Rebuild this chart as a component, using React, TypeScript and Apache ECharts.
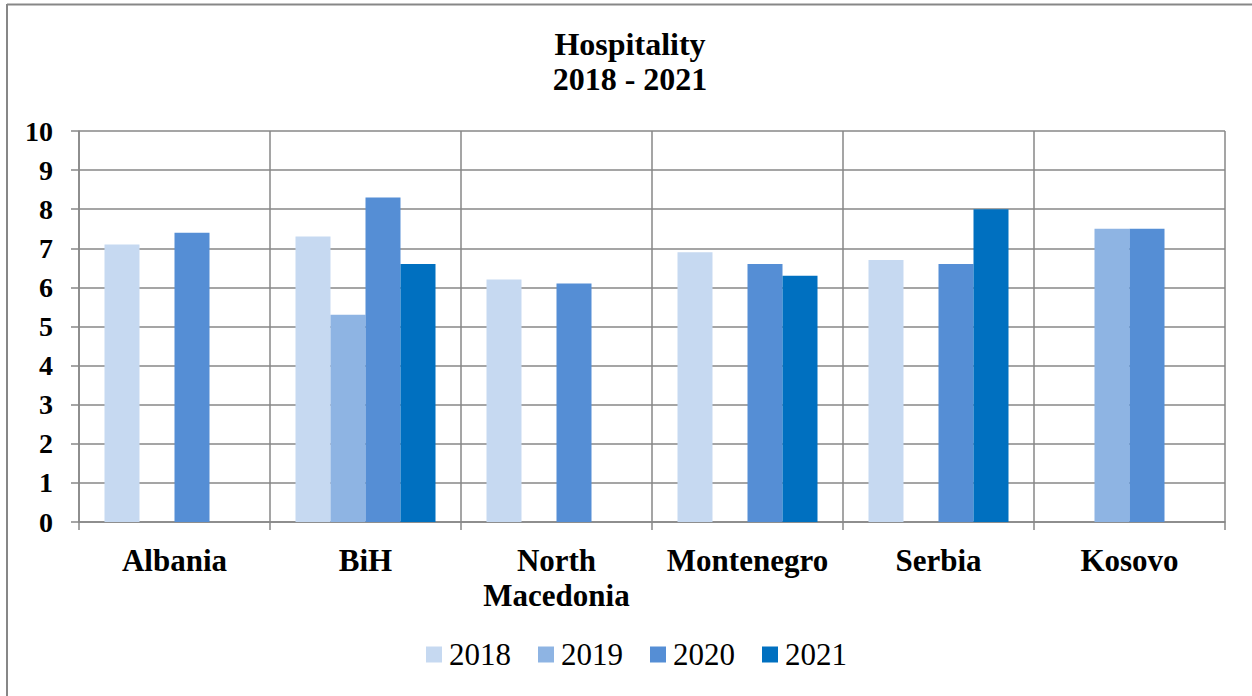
import React, { useEffect, useRef } from "react";
import * as echarts from "echarts";

const categories = ["Albania", "BiH", "North\nMacedonia", "Montenegro", "Serbia", "Kosovo"];
const years = ["2018", "2019", "2020", "2021"];
const values2018 = [7.1, 7.3, 6.2, 6.9, 6.7, null];
const values2019 = [null, 5.3, null, null, null, 7.5];
const values2020 = [7.4, 8.3, 6.1, 6.6, 6.6, 7.5];
const values2021 = [null, 6.6, null, 6.3, 8.0, null];
const colors = ["#C6D9F1", "#8EB4E3", "#558ED5", "#0070C0"];
const yTicks = [0, 1, 2, 3, 4, 5, 6, 7, 8, 9, 10];

const FONT = "Liberation Serif";
const GRID_COLOR = "#878787";

export default function App() {
  const ref = useRef<HTMLDivElement>(null);
  useEffect(() => {
    if (!ref.current) return;
    const chart = echarts.init(ref.current, null, { renderer: "svg" });
    const seriesData = [values2018, values2019, values2020, values2021];
    chart.setOption({
      animation: false,
      backgroundColor: "#ffffff",
      title: {
        text: "Hospitality\n2018 - 2021",
        left: 630,
        top: 26,
        padding: 0,
        textAlign: "center",
        textStyle: {
          fontFamily: FONT,
          fontWeight: "bold",
          fontSize: 32,
          lineHeight: 35,
          color: "#000",
        },
      },
      legend: {
        data: years,
        left: 426,
        top: 639,
        padding: 0,
        itemWidth: 16,
        itemHeight: 16,
        itemGap: 27,
        icon: "rect",
        textStyle: { fontFamily: FONT, fontSize: 31, color: "#000", padding: [0, 0, 0, 2] },
      },
      grid: { left: 79, right: 27, top: 131, bottom: 174, containLabel: false },
      xAxis: {
        type: "category",
        data: categories,
        boundaryGap: true,
        axisLine: { show: true, lineStyle: { color: GRID_COLOR, width: 1.5 } },
        axisTick: { show: true, length: 8, lineStyle: { color: GRID_COLOR, width: 1.5 } },
        splitLine: { show: true, lineStyle: { color: GRID_COLOR, width: 1.5 } },
        axisLabel: {
          margin: 21,
          fontFamily: FONT,
          fontWeight: "bold",
          fontSize: 31,
          lineHeight: 35,
          color: "#000",
          interval: 0,
        },
      },
      yAxis: {
        type: "value",
        min: yTicks[0],
        max: yTicks[yTicks.length - 1],
        interval: 1,
        axisLine: { show: true, lineStyle: { color: GRID_COLOR, width: 1.5 } },
        axisTick: { show: true, length: 8, lineStyle: { color: GRID_COLOR, width: 1.5 } },
        splitLine: { show: true, lineStyle: { color: GRID_COLOR, width: 1.5 } },
        axisLabel: {
          margin: 26,
          fontFamily: FONT,
          fontWeight: "bold",
          fontSize: 28,
          color: "#000",
        },
      },
      series: years.map((y, i) => ({
        name: y,
        type: "bar",
        data: seriesData[i],
        barGap: "0%",
        barCategoryGap: "26.7%",
        itemStyle: { color: colors[i] },
      })),
      graphic: [
        {
          type: "line",
          shape: { x1: 7, y1: 4, x2: 7, y2: 700 },
          style: { stroke: GRID_COLOR, lineWidth: 2 },
        },
        {
          type: "line",
          shape: { x1: 7, y1: 4.5, x2: 1260, y2: 4.5 },
          style: { stroke: GRID_COLOR, lineWidth: 2 },
        },
      ],
    });
    return () => chart.dispose();
  }, []);
  return (
    <div
      ref={ref}
      style={{ position: "absolute", left: 0, top: 0, width: 1252, height: 696 }}
    />
  );
}
